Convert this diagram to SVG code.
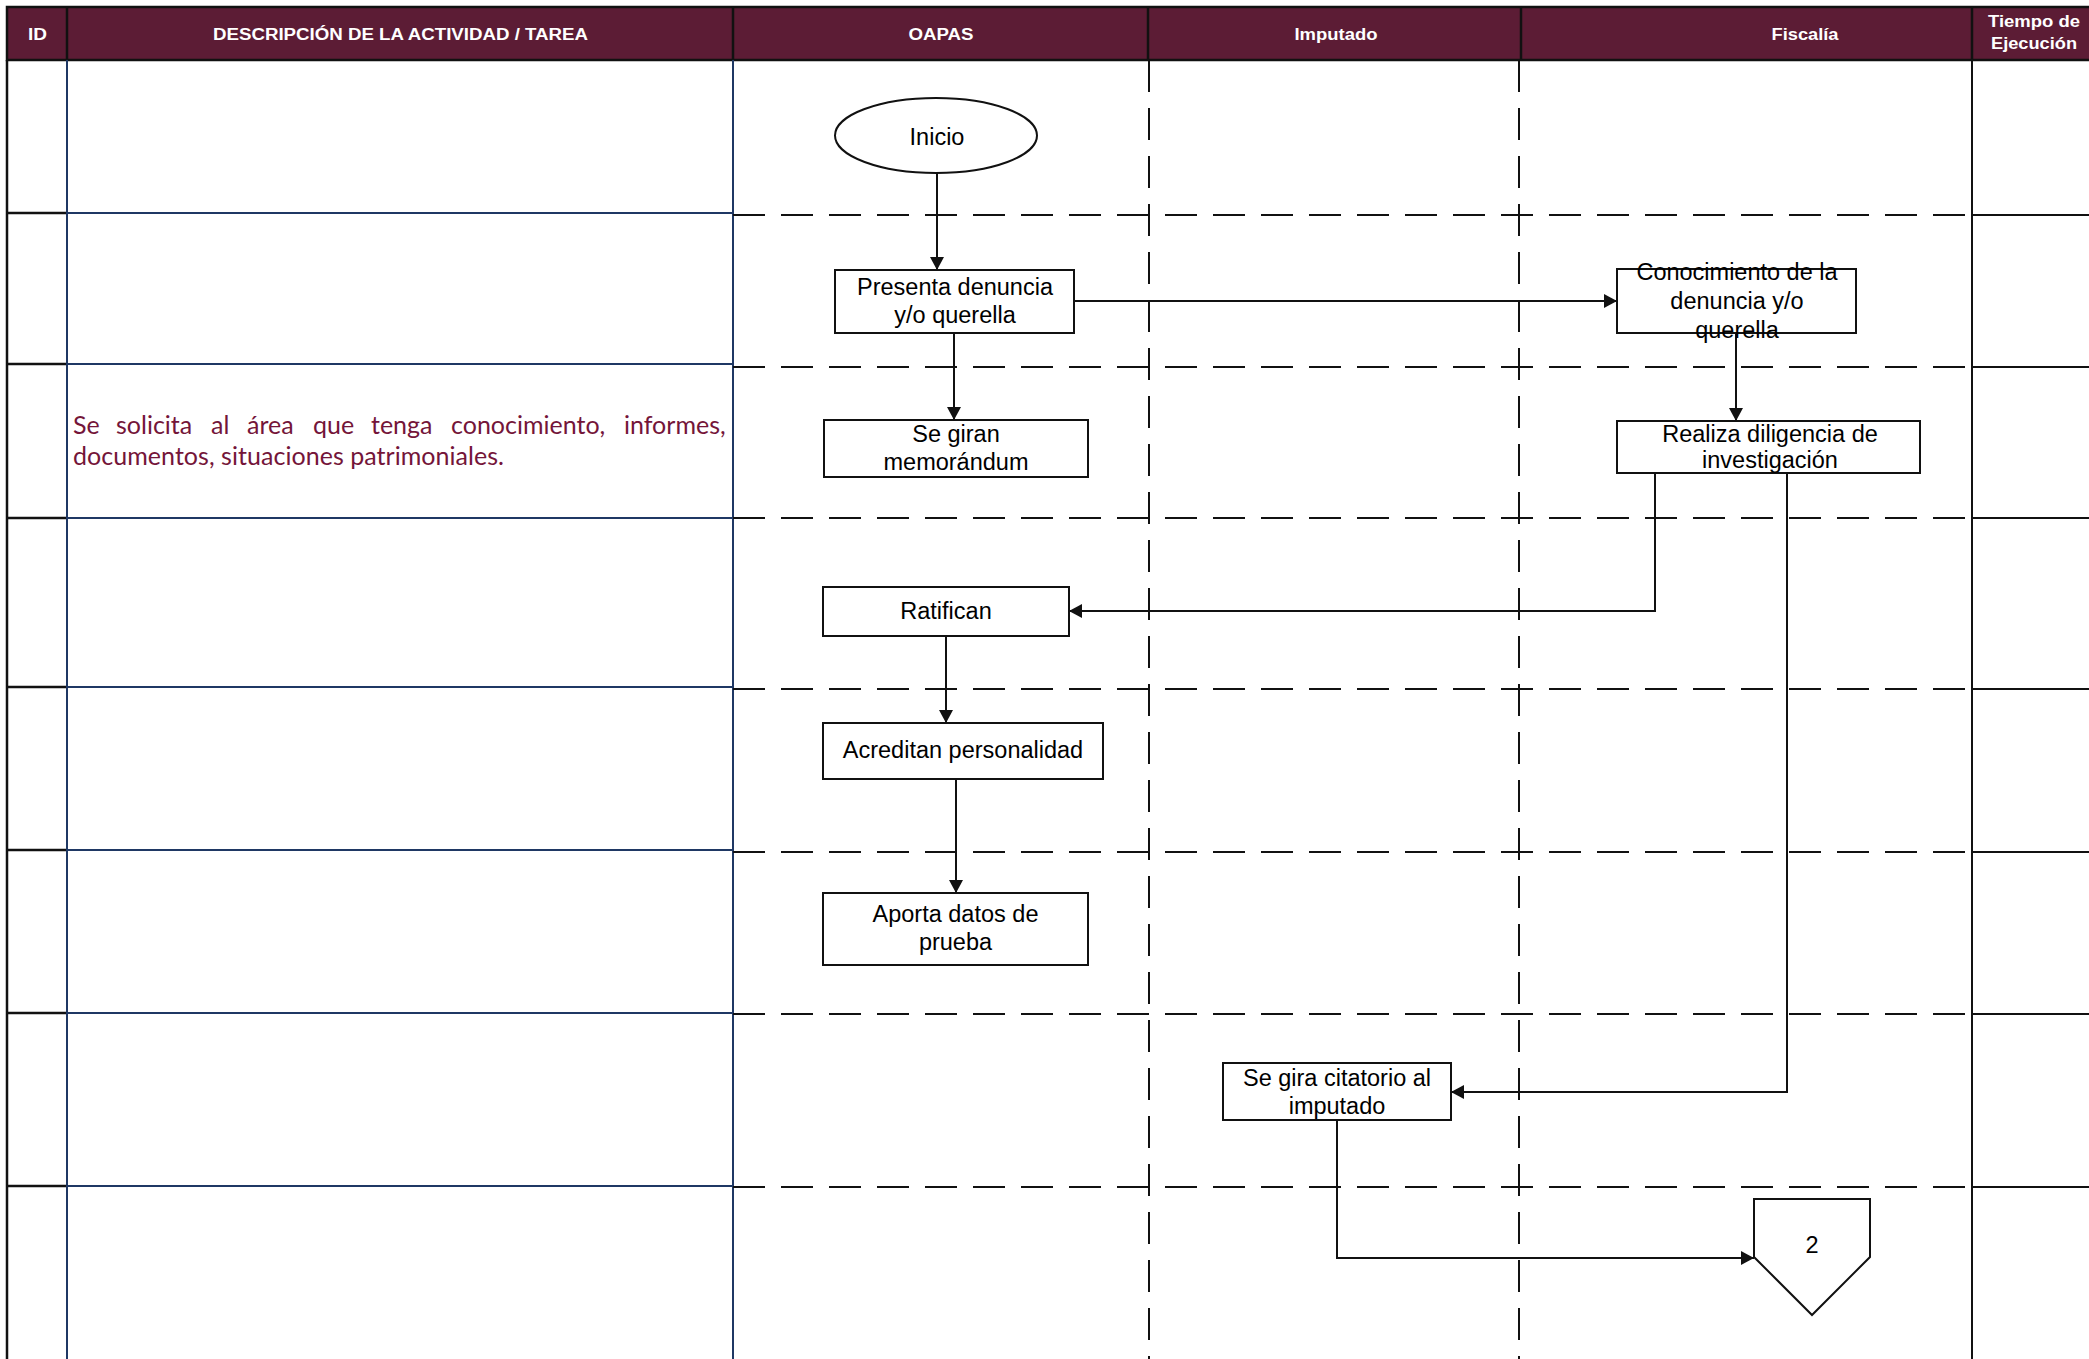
<svg xmlns="http://www.w3.org/2000/svg" width="2089" height="1359" viewBox="0 0 2089 1359">
<defs>
<style>
.hdr{fill:#5C1C35;stroke:#111;stroke-width:2.5}
.hdiv{stroke:#111;stroke-width:2.5}
.ht{font-family:"Liberation Sans",Arial,sans-serif;font-weight:bold;font-size:16px;fill:#fff;text-anchor:middle}
.idl{stroke:#111;stroke-width:2.5;fill:none}
.dsl{stroke:#1F3864;stroke-width:2;fill:none}
.dash{stroke:#111;stroke-width:2;fill:none;stroke-dasharray:32 16}
.solid{stroke:#111;stroke-width:2;fill:none}
.node{fill:#fff;stroke:#111;stroke-width:2}
.nt{font-family:"Liberation Sans",Arial,sans-serif;font-size:23.5px;fill:#000;text-anchor:middle}
.conn{stroke:#111;stroke-width:2;fill:none;marker-end:url(#ah)}
.desc{font-family:Lato,"Open Sans",sans-serif;font-size:25px;fill:#741539}
</style>
<marker id="ah" markerUnits="userSpaceOnUse" markerWidth="14" markerHeight="14" refX="13" refY="7" orient="auto">
<path d="M0,0 L13,7 L0,14 Z" fill="#111"/>
</marker>
</defs>
<rect width="2089" height="1359" fill="#fff"/>
<g id="header">
<rect class="hdr" x="7" y="7" width="2090" height="53"/>
<line class="hdiv" x1="67" y1="7" x2="67" y2="60"/>
<line class="hdiv" x1="733" y1="7" x2="733" y2="60"/>
<line class="hdiv" x1="1148" y1="7" x2="1148" y2="60"/>
<line class="hdiv" x1="1521" y1="7" x2="1521" y2="60"/>
<line class="hdiv" x1="1972" y1="7" x2="1972" y2="60"/>
<text class="ht" x="37.5" y="40" textLength="19" lengthAdjust="spacingAndGlyphs">ID</text>
<text class="ht" x="400.5" y="40" textLength="375" lengthAdjust="spacingAndGlyphs">DESCRIPCIÓN DE LA ACTIVIDAD / TAREA</text>
<text class="ht" x="941" y="40" textLength="65" lengthAdjust="spacingAndGlyphs">OAPAS</text>
<text class="ht" x="1336" y="40" textLength="83" lengthAdjust="spacingAndGlyphs">Imputado</text>
<text class="ht" x="1805" y="40" textLength="67" lengthAdjust="spacingAndGlyphs">Fiscalía</text>
<text class="ht" x="2034" y="27" textLength="92" lengthAdjust="spacingAndGlyphs">Tiempo de</text>
<text class="ht" x="2034" y="49" textLength="86" lengthAdjust="spacingAndGlyphs">Ejecución</text>
</g>
<g id="grid">
<line class="idl" x1="7" y1="60" x2="7" y2="1359"/>
<path class="idl" d="M7,213 H67 M7,364 H67 M7,518 H67 M7,687 H67 M7,850 H67 M7,1013 H67 M7,1186 H67"/>
<line class="dsl" x1="67" y1="60" x2="67" y2="1359"/>
<line class="dsl" x1="733" y1="60" x2="733" y2="1359"/>
<path class="dsl" d="M67,213 H733 M67,364 H733 M67,518 H733 M67,687 H733 M67,850 H733 M67,1013 H733 M67,1186 H733"/>
<line class="solid" x1="1972" y1="60" x2="1972" y2="1359"/>
<path class="solid" d="M1972,215 H2089 M1972,367 H2089 M1972,518 H2089 M1972,689 H2089 M1972,852 H2089 M1972,1014 H2089 M1972,1187 H2089"/>
<path class="dash" d="M733,215 H1972 M733,367 H1972 M733,518 H1972 M733,689 H1972 M733,852 H1972 M733,1014 H1972 M733,1187 H1972"/>
<line class="dash" x1="1149" y1="60" x2="1149" y2="1359"/>
<line class="dash" x1="1519" y1="60" x2="1519" y2="1359"/>
</g>
<g id="description">
<text class="desc" y="434"><tspan x="73">Se</tspan><tspan x="116">solicita</tspan><tspan x="211">al</tspan><tspan x="247">área</tspan><tspan x="313">que</tspan><tspan x="371">tenga</tspan><tspan x="451">conocimiento,</tspan><tspan x="624">informes,</tspan></text>
<text class="desc" x="73" y="465" textLength="431" lengthAdjust="spacing">documentos, situaciones patrimoniales.</text>
</g>
<g id="connectors">
<path class="conn" d="M937,173 V270"/>
<path class="conn" d="M954,333 V420"/>
<path class="conn" d="M1074,301 H1617"/>
<path class="conn" d="M1736,333 V421"/>
<path class="conn" d="M1655,473 V611 H1069"/>
<path class="conn" d="M1787,473 V1092 H1451"/>
<path class="conn" d="M946,636 V723"/>
<path class="conn" d="M956,779 V893"/>
<path class="conn" d="M1337,1120 V1258 H1754"/>
</g>
<g id="n-inicio">
<ellipse class="node" cx="936" cy="135.5" rx="101" ry="37.5"/>
<text class="nt" x="937" y="145">Inicio</text>
</g>
<g id="n-presenta">
<rect class="node" x="835" y="270" width="239" height="63"/>
<text class="nt" x="955" y="295">Presenta denuncia</text>
<text class="nt" x="955" y="323">y/o querella</text>
</g>
<g id="n-memorandum">
<rect class="node" x="824" y="420" width="264" height="57"/>
<text class="nt" x="956" y="442">Se giran</text>
<text class="nt" x="956" y="470">memorándum</text>
</g>
<g id="n-conocimiento">
<rect class="node" x="1617" y="269" width="239" height="64"/>
<text class="nt" x="1737" y="280">Conocimiento de la</text>
<text class="nt" x="1737" y="309">denuncia y/o</text>
<text class="nt" x="1737" y="338">querella</text>
</g>
<g id="n-realiza">
<rect class="node" x="1617" y="421" width="303" height="52"/>
<text class="nt" x="1770" y="442">Realiza diligencia de</text>
<text class="nt" x="1770" y="468">investigación</text>
</g>
<g id="n-ratifican">
<rect class="node" x="823" y="587" width="246" height="49"/>
<text class="nt" x="946" y="619">Ratifican</text>
</g>
<g id="n-acreditan">
<rect class="node" x="823" y="723" width="280" height="56"/>
<text class="nt" x="963" y="758">Acreditan personalidad</text>
</g>
<g id="n-aporta">
<rect class="node" x="823" y="893" width="265" height="72"/>
<text class="nt" x="955.5" y="922">Aporta datos de</text>
<text class="nt" x="955.5" y="950">prueba</text>
</g>
<g id="n-citatorio">
<rect class="node" x="1223" y="1063" width="228" height="57"/>
<text class="nt" x="1337" y="1086">Se gira citatorio al</text>
<text class="nt" x="1337" y="1114">imputado</text>
</g>
<g id="n-offpage2">
<path class="node" d="M1754,1199 H1870 V1257 L1812,1315 L1754,1257 Z"/>
<text class="nt" x="1812" y="1253">2</text>
</g>
</svg>
